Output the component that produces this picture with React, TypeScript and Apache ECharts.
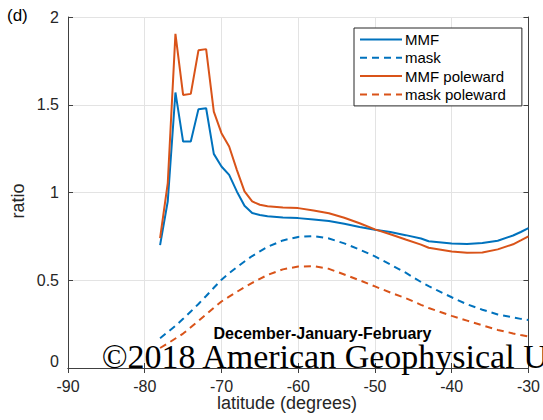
import React, { useEffect, useRef } from 'react';
import * as echarts from 'echarts';

// Zonal-mean ratios, December-January-February
const latitudes = [
  -78, -77, -76, -75, -74, -73, -72, -71, -70, -69, -68, -67, -66, -65, -64, -62, -60,
  -58, -56, -54, -52, -50, -48, -46, -44, -43, -42, -40, -38, -36, -34, -32, -31, -30,
];
const mmf = [
  0.7, 0.95, 1.57, 1.29, 1.29, 1.475, 1.48, 1.22, 1.148, 1.1, 1.006, 0.925, 0.883, 0.872, 0.865, 0.858, 0.854,
  0.846, 0.838, 0.822, 0.803, 0.788, 0.775, 0.757, 0.738, 0.722, 0.718, 0.71, 0.706, 0.712, 0.725, 0.755, 0.775, 0.797,
];
const mask = [
  0.17, 0.205, 0.24, 0.28, 0.322, 0.365, 0.41, 0.457, 0.503, 0.54, 0.574, 0.607, 0.638, 0.665, 0.69, 0.727, 0.747,
  0.752, 0.738, 0.71, 0.675, 0.636, 0.59, 0.543, 0.49, 0.467, 0.445, 0.403, 0.363, 0.332, 0.305, 0.288, 0.28, 0.273,
];
const mmfPoleward = [
  0.74, 1.054, 1.904, 1.556, 1.562, 1.81, 1.817, 1.461, 1.338, 1.262, 1.129, 1.006, 0.949, 0.93, 0.922, 0.915, 0.911,
  0.897, 0.882, 0.856, 0.825, 0.79, 0.762, 0.732, 0.703, 0.685, 0.678, 0.664, 0.657, 0.658, 0.676, 0.705, 0.727, 0.75,
];
const maskPoleward = [
  0.114, 0.14, 0.168, 0.196, 0.232, 0.268, 0.305, 0.343, 0.379, 0.407, 0.434, 0.46, 0.485, 0.508, 0.53, 0.562, 0.578,
  0.58, 0.565, 0.533, 0.5, 0.465, 0.43, 0.398, 0.36, 0.342, 0.327, 0.297, 0.27, 0.243, 0.217, 0.197, 0.188, 0.18,
];

const seriesNames = ['MMF', 'mask', 'MMF poleward', 'mask poleward'];

const SANS = '"Liberation Sans", Arial, Helvetica, sans-serif';
const SERIF = '"Liberation Serif", "Times New Roman", serif';
const BLUE = '#0072BD';
const ORANGE = '#D95319';
const AXIS = '#404040';
const TEXT = '#262626';

const pairs = (vals: number[]) => latitudes.map((lat, i) => [lat, vals[i]]);

export default function App() {
  const ref = useRef<HTMLDivElement>(null);

  useEffect(() => {
    document.body.style.margin = '0';
    const chart = echarts.init(ref.current!, null, { renderer: 'svg' });

    const tick = { show: true, inside: true, length: 5, lineStyle: { color: AXIS, width: 1 } };
    const axisLine = { show: true, lineStyle: { color: AXIS, width: 1 } };

    const line = (name: string, data: number[], color: string, dashed: boolean) => ({
      name,
      type: 'line',
      data: pairs(data),
      symbol: 'none',
      smooth: false,
      lineStyle: { color, width: 2, type: dashed ? [7, 5] : 'solid' },
      itemStyle: { color },
      z: 3,
    });

    chart.setOption({
      animation: false,
      backgroundColor: '#ffffff',
      grid: { left: 68, right: 10, top: 17, bottom: 52, containLabel: false },
      xAxis: [
        {
          type: 'value',
          min: -90,
          max: -30,
          interval: 10,
          axisLine,
          axisTick: tick,
          axisLabel: { color: TEXT, fontSize: 16, fontFamily: SANS, margin: 10 },
          splitLine: { show: true, lineStyle: { color: '#e3e3e3', width: 1 } },
        },
        {
          type: 'value',
          position: 'top',
          min: -90,
          max: -30,
          interval: 10,
          axisLine,
          axisTick: tick,
          axisLabel: { show: false },
          splitLine: { show: false },
        },
      ],
      yAxis: [
        {
          type: 'value',
          min: 0,
          max: 2,
          interval: 0.5,
          axisLine,
          axisTick: tick,
          axisLabel: {
            color: TEXT,
            fontSize: 16,
            fontFamily: SANS,
            margin: 9,
            formatter: (v: number) => (v === 0 ? '{z|0}' : String(v)),
            rich: { z: { color: TEXT, fontSize: 16, fontFamily: SANS, padding: [0, 0, 14, 0] } },
          },
          splitLine: { show: true, lineStyle: { color: '#e3e3e3', width: 1 } },
        },
        {
          type: 'value',
          position: 'right',
          min: 0,
          max: 2,
          interval: 0.5,
          axisLine,
          axisTick: tick,
          axisLabel: { show: false },
          splitLine: { show: false },
        },
      ],
      legend: {
        data: seriesNames,
        orient: 'vertical',
        left: 354,
        top: 28,
        padding: [4, 16, 4, 5],
        itemWidth: 42,
        itemHeight: 15,
        itemGap: 3.3,
        backgroundColor: '#ffffff',
        borderColor: '#262626',
        borderWidth: 1,
        borderRadius: 0,
        itemStyle: { color: 'rgba(0,0,0,0)', borderWidth: 0, opacity: 0 },
        textStyle: { color: '#000000', fontSize: 15, fontFamily: SANS, padding: [0, 0, 0, -2] },
      },
      series: [
        line(seriesNames[0], mmf, BLUE, false),
        line(seriesNames[1], mask, BLUE, true),
        line(seriesNames[2], mmfPoleward, ORANGE, false),
        line(seriesNames[3], maskPoleward, ORANGE, true),
      ],
      graphic: [
        {
          type: 'text',
          x: 7,
          y: 15,
          style: {
            text: '(d)',
            fill: '#000000',
            fontSize: 17,
            fontFamily: SANS,
            align: 'left',
            verticalAlign: 'middle',
            textAlign: 'left',
            textVerticalAlign: 'middle',
          },
        },
        {
          type: 'text',
          x: 18,
          y: 201,
          rotation: Math.PI / 2,
          style: {
            text: 'ratio',
            fill: TEXT,
            fontSize: 18,
            fontFamily: SANS,
            align: 'center',
            verticalAlign: 'middle',
            textAlign: 'center',
            textVerticalAlign: 'middle',
          },
        },
        {
          type: 'text',
          x: 287,
          y: 403,
          style: {
            text: 'latitude (degrees)',
            fill: TEXT,
            fontSize: 18,
            fontFamily: SANS,
            align: 'center',
            verticalAlign: 'middle',
            textAlign: 'center',
            textVerticalAlign: 'middle',
          },
        },
        {
          type: 'text',
          x: 322.5,
          y: 333.5,
          z: 10,
          style: {
            text: 'December-January-February',
            fill: '#000000',
            fontSize: 16,
            lineHeight: 14,
            fontWeight: 'bold',
            fontFamily: SANS,
            align: 'center',
            verticalAlign: 'middle',
            textAlign: 'center',
            textVerticalAlign: 'middle',
          },
        },
        {
          type: 'text',
          x: 101.7,
          y: 356.5,
          z: 10,
          style: {
            text: '©2018 American Geophysical Union',
            fill: '#000000',
            fontSize: 34,
            lineHeight: 24,
            fontFamily: SERIF,
            align: 'left',
            verticalAlign: 'middle',
            textAlign: 'left',
            textVerticalAlign: 'middle',
          },
        },
      ],
    });

    return () => chart.dispose();
  }, []);

  return <div ref={ref} style={{ width: 543, height: 420 }} />;
}
